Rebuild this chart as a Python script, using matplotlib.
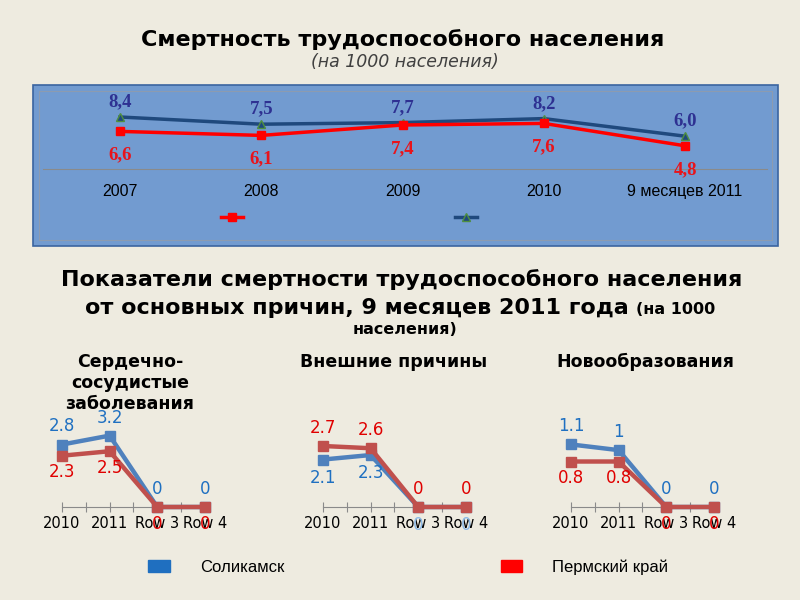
import matplotlib.pyplot as plt
from matplotlib.patches import Rectangle, Patch
from matplotlib.lines import Line2D

# Верхний график: смертность трудоспособного населения
годы = ['2007', '2008', '2009', '2010', '9 месяцев 2011']
соликамск_верх = [8.4, 7.5, 7.7, 8.2, 6.0]
пермь_верх = [6.6, 6.1, 7.4, 7.6, 4.8]

# Нижние графики по причинам
категории = ['2010', '2011', 'Row 3', 'Row 4']
панели = ['Сердечно-\nсосудистые\nзаболевания', 'Внешние причины', 'Новообразования']
соликамск = [[2.8, 3.2, 0, 0], [2.1, 2.3, 0, 0], [1.1, 1.0, 0, 0]]
пермь = [[2.3, 2.5, 0, 0], [2.7, 2.6, 0, 0], [0.8, 0.8, 0, 0]]

W, H = 800, 600
фон = '#eeebe0'
fig = plt.figure(figsize=(8, 6), dpi=100, facecolor=фон)


def px_axes(x0, y0, x1, y1):
    return fig.add_axes([x0 / W, 1 - y1 / H, (x1 - x0) / W, (y1 - y0) / H])


def fmt(v):
    return f'{v:g}'


# Заголовки
fig.text(403 / W, 1 - 40 / H, 'Смертность трудоспособного населения',
         ha='center', va='center', fontsize=16, fontweight='bold')
fig.text(405 / W, 1 - 62 / H, '(на 1000 населения)', ha='center', va='center',
         fontsize=12.5, style='italic', color='#404040')

# Синяя подложка верхнего графика
fig.patches.append(Rectangle((33 / W, 1 - 246 / H), 745 / W, 161 / H, transform=fig.transFigure,
                             facecolor='#729bd0', edgecolor='#3a64a0', lw=1.2, zorder=-2))
fig.patches.append(Rectangle((39 / W, 1 - 240 / H), 733 / W, 149 / H, transform=fig.transFigure,
                             facecolor='none', edgecolor='#8c9bb0', lw=0.8, zorder=-1))

ax = px_axes(43, 92, 767, 169)
ax.patch.set_alpha(0)
x = range(len(годы))
ax.plot(x, соликамск_верх, color='#1f497d', lw=2.5, marker='^', ms=5.5,
        mfc='#1f497d', mec='#4f8f3f', zorder=3)
ax.plot(x, пермь_верх, color='#ff0000', lw=2.5, marker='s', ms=6,
        mfc='#ff0000', mec='#ff0000', zorder=3)
for i, v in enumerate(соликамск_верх):
    ax.annotate(f'{v:.1f}'.replace('.', ','), (i, v), xytext=(0, 11), textcoords='offset points',
                ha='center', va='center', fontsize=13.5, fontweight='bold',
                family='Liberation Serif', color='#2e3192')
for i, v in enumerate(пермь_верх):
    ax.annotate(f'{v:.1f}'.replace('.', ','), (i, v), xytext=(0, -17), textcoords='offset points',
                ha='center', va='center', fontsize=13.5, fontweight='bold',
                family='Liberation Serif', color='#e8141b')
ax.set_xlim(-0.545, 4.58)
ax.set_ylim(1.9, 11.525)
for s in ['top', 'left', 'right']:
    ax.spines[s].set_visible(False)
ax.spines['bottom'].set_color('#8a8a8a')
ax.spines['bottom'].set_linewidth(0.8)
ax.set_yticks([])
ax.set_xticks(list(x), годы, family=['Liberation Sans Narrow', 'Liberation Sans'], fontsize=11.5)
ax.tick_params(axis='x', length=0, pad=11)

leg_top = ax.legend(handles=[
    Line2D([], [], color='#ff0000', lw=2.5, marker='s', ms=6),
    Line2D([], [], color='#1f497d', lw=2.5, marker='^', ms=5.5, mec='#4f8f3f')],
    labels=['', ''], ncol=2, frameon=False, handlelength=1.6, handletextpad=0,
    columnspacing=15.2, loc='center', bbox_to_anchor=(349 / W, 1 - 218 / H),
    bbox_transform=fig.transFigure, fontsize=10)

# Второй заголовок
fig.text(402 / W, 1 - 280 / H, 'Показатели смертности трудоспособного населения',
         ha='center', va='center', fontsize=16, fontweight='bold')
fig.text(629 / W, 1 - 308 / H, 'от основных причин, 9 месяцев 2011 года',
         ha='right', va='center', fontsize=16, fontweight='bold')
fig.text(636 / W, 1 - 309 / H, '(на 1000', ha='left', va='center', fontsize=11.5, fontweight='bold')
fig.text(405 / W, 1 - 329 / H, 'населения)', ha='center', va='center', fontsize=11.5, fontweight='bold')

синий = '#4f81bd'
красный = '#c0504d'
синий_текст = '#1f70c1'
красный_текст = '#e00000'

# позиции категорий (пиксели) и масштаб оси y каждой панели
первые = [62, 323, 571]
шаг = 47.6
верх_y = [3.9, 3.85, 1.53]
заголовки_x = [130, 394, 645]
# сверху ли подписи синей серии
синий_сверху = [True, False, True]

for k in range(3):
    x0 = первые[k] - 0.4 * шаг
    x1 = первые[k] + 3.4 * шаг
    a = px_axes(x0, 420, x1, 507)
    a.patch.set_alpha(0)
    a.set_xlim(-0.4, 3.4)
    a.set_ylim(0, верх_y[k])
    xs = range(len(категории))
    a.plot(xs, соликамск[k], color=синий, lw=3.2, marker='s', ms=6.5, clip_on=False, zorder=3)
    a.plot(xs, пермь[k], color=красный, lw=3.2, marker='s', ms=6.5, clip_on=False, zorder=4)
    up = синий_сверху[k]
    for i in xs:
        vb, vr = соликамск[k][i], пермь[k][i]
        ob = 13 if up else -13
        orr = -12 if up else 13
        cb = синий_текст if (up or i < 2) else '#8ab8e6'
        a.annotate(fmt(vb), (i, vb), xytext=(0, ob), textcoords='offset points', ha='center',
                   va='center', fontsize=12, color=cb, zorder=6, annotation_clip=False)
        a.annotate(fmt(vr), (i, vr), xytext=(0, orr), textcoords='offset points', ha='center',
                   va='center', fontsize=12, color=красный_текст, zorder=6, annotation_clip=False)
    for s in ['top', 'left', 'right']:
        a.spines[s].set_visible(False)
    a.spines['bottom'].set_bounds(0, 3)
    a.spines['bottom'].set_color('#8a8a8a')
    a.set_yticks([])
    a.set_xticks([0, 0.5, 1, 1.5, 2, 2.5, 3], ['2010', '', '2011', '', 'Row 3', '', 'Row 4'],
                 fontsize=10.5)
    a.tick_params(axis='x', direction='inout', length=7, color='#8a8a8a', pad=3)
    fig.text(заголовки_x[k] / W, 1 - 353 / H, панели[k], ha='center', va='top',
             fontsize=12.5, fontweight='bold', linespacing=1.2)

# Общая легенда внизу
fig.legend(handles=[Patch(facecolor='#1f6fc0', edgecolor='#1f6fc0', joinstyle='round'),
                    Patch(facecolor='#ff0000', edgecolor='#ff0000', joinstyle='round')],
           labels=['Соликамск', 'Пермский край'], ncol=2, frameon=False,
           loc='center left', bbox_to_anchor=(133 / W, 1 - 567 / H),
           handlelength=1.3, handleheight=0.7, handletextpad=1.8, columnspacing=13,
           prop={'family': 'Liberation Sans', 'size': 12})

fig.savefig('out.png', dpi=100, facecolor=фон)
